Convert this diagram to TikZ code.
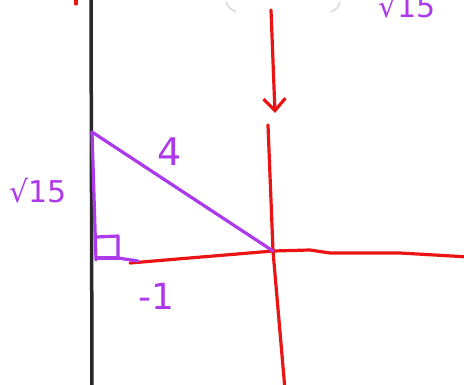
\documentclass[tikz,border=0pt]{standalone}
\usepackage{fontspec}
\usetikzlibrary{arrows.meta}
\newfontfamily\penfont{DejaVu Sans}
\definecolor{penred}{RGB}{235,20,20}
\definecolor{penpurple}{RGB}{172,58,235}
\definecolor{penblack}{RGB}{40,40,40}

\begin{document}
\begin{tikzpicture}[x=1pt,y=-1pt,
  redpen/.style={draw=penred, line width=3.2pt, line cap=round, line join=round},
  purplepen/.style={draw=penpurple, line width=3.2pt, line cap=round, line join=round},
  penlabel/.style={text=penpurple, font=\penfont\fontsize{30}{30}\selectfont, inner sep=0pt}]
  \def\W{464}
  \def\Hh{385}
  \useasboundingbox (0,0) rectangle (\W,\Hh);
  \fill [white](0,0) rectangle (\W,\Hh);

  % left edge line
  \draw [penblack, line width=3.5pt](91,-5)--(92,\Hh+5);
  \draw [redpen](76,-5)--(76,4);

  % faint marks at the top
  \draw [black!15, line width=1.5pt](226,2) .. controls (229,8) .. (236,12);
  \draw [black!15, line width=1.5pt](340,2) .. controls (338,8) .. (331,12);

  % triangle corners
  \coordinate (A) at (92,132);
  \coordinate (C) at (96,260);
  \coordinate (O) at (273,251);

  % red axes
  \coordinate (arrowtop) at (271,10);
  \coordinate (arrowend) at (275,113);
  \draw [redpen, -{Straight Barb[length=12pt,width=22pt,line width=3.2pt]}](arrowtop)--(arrowend);
  \draw [redpen](268,125)--(O)--(285,\Hh+5);
  \draw [redpen](130,263)--(O)--(310,250)--(330,253)--(400,253)--(\W+5,257);

  % purple triangle
  \draw [purplepen](C)--(A)--(O);
  \draw [purplepen](97,237)--(118,236)--(118,258)--(138,261);
  \draw [purplepen](96,258)--(118,258);

  % labels
  \node [penlabel, font=\penfont\fontsize{38}{38}\selectfont] (hyp) at (170,152) {4};
  \node [penlabel] (leg) at (38,191) {√15};
  \node [penlabel, font=\penfont\fontsize{36}{36}\selectfont] (base) at (156,296) {-1};
  \node [penlabel] (topleg) at (407,6) {√15};
\end{tikzpicture}
\end{document}
